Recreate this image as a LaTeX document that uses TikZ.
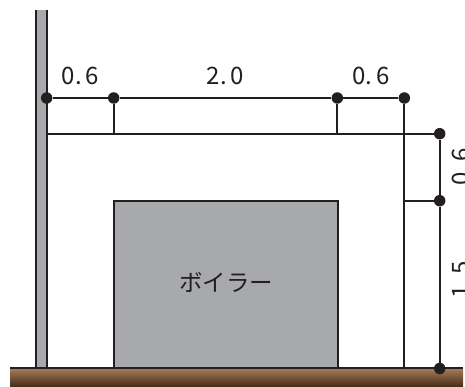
\documentclass[tikz,border=0pt]{standalone}
\usepackage{fontspec}
\setmainfont{Noto Sans CJK JP}
\definecolor{ink}{HTML}{231F20}
\definecolor{boilergray}{HTML}{A7A9AC}
\definecolor{floortop}{HTML}{A07A55}
\definecolor{floorbot}{HTML}{452A17}
\tikzset{
  line/.style={draw=ink,line width=1.8pt},
  dotpt/.style={circle,fill=ink,inner sep=0pt,minimum size=11.5pt},
  dimlabel/.style={text=ink,font=\fontsize{24}{24}\selectfont,inner sep=0pt}
}
\begin{document}
\begin{tikzpicture}[x=1pt,y=-1pt]
  \useasboundingbox (0,0) rectangle (465,387);
  \clip (0,0) rectangle (465,387);
  % floor and wall
  \shade[top color=floortop,bottom color=floorbot] (10,369) rectangle (463,387);
  \fill[boilergray] (36,10) rectangle (47,368);
  \draw[line] (36,10) -- (36,368);
  \draw[line] (47,10) -- (47,368);
  \draw[draw=ink,line width=1.2pt] (10,368) -- (463,368);
  % boiler
  \node[line,fill=boilergray,minimum width=224pt,minimum height=167.5pt,inner sep=0pt] (boiler) at (226,284.5) {};
  \node[text=ink,font=\fontsize{23.5}{24}\selectfont,inner sep=0pt] (name) at (226,282) {ボイラー};
  % points
  \node[dotpt] (a) at (46.7,98) {};
  \node[dotpt] (b) at (113.7,98) {};
  \node[dotpt] (c) at (337.3,98) {};
  \node[dotpt] (d) at (404.3,98) {};
  \node[dotpt] (e) at (439.7,133.7) {};
  \node[dotpt] (f) at (439.7,200.7) {};
  \node[dotpt] (g) at (439.7,368.5) {};
  \coordinate (b1) at (113.7,133.7);
  \coordinate (c1) at (337.3,133.7);
  \coordinate (w1) at (47,133.7);
  \coordinate (d1) at (404.3,368);
  \coordinate (d2) at (404.3,200.7);
  % dimension lines
  \draw[line] (a) -- (b) -- (c) -- (d);
  \draw[line] (b) -- (b1);
  \draw[line] (c) -- (c1);
  \draw[line] (w1) -- (e);
  \draw[line] (d) -- (d1);
  \draw[line] (d2) -- (f);
  \draw[line] (e) -- (f) -- (g);
  % labels
  \node[dimlabel] (l1) at (80.5,76) {0.\,6};
  \node[dimlabel] (l2) at (225.5,76) {2.\,0};
  \node[dimlabel] (l3) at (371,76) {0.\,6};
  \node[dimlabel,rotate=90] (l4) at (460.7,166.5) {0.\,6};
  \node[dimlabel,rotate=90] (l5) at (460.7,280) {1.\,5};
\end{tikzpicture}
\end{document}
